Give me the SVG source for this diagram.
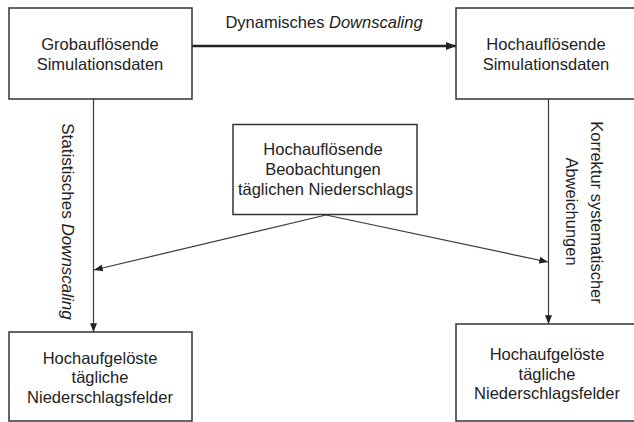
<svg xmlns="http://www.w3.org/2000/svg" width="634" height="422" viewBox="0 0 634 422">
<defs>
<style>
.box{fill:#fff;stroke:#333;stroke-width:1.5}
.t{font-family:"Liberation Sans",Arial,sans-serif;font-size:16.5px;fill:#222;text-anchor:middle}
.c{fill:none;stroke:#3a3a3a;stroke-width:1.2}
.ct{fill:none;stroke:#222;stroke-width:2.4}
</style>
<marker id="ah" viewBox="0 0 10 8" refX="10" refY="4" markerWidth="9" markerHeight="7" markerUnits="userSpaceOnUse" orient="auto">
<path d="M0,0 L10,4 L0,8 Z" fill="#222"/>
</marker>
<marker id="ahb" viewBox="0 0 10 8" refX="10" refY="4" markerWidth="10" markerHeight="8" markerUnits="userSpaceOnUse" orient="auto">
<path d="M0,0 L10,4 L0,8 Z" fill="#222"/>
</marker>
</defs>
<rect width="634" height="422" fill="#fff"/>
<g id="connectors">
<line class="ct" x1="192" y1="46" x2="456" y2="46" marker-end="url(#ahb)"/>
<line class="c" x1="93.5" y1="99" x2="93.5" y2="332" marker-end="url(#ah)"/>
<line class="c" x1="548.5" y1="99" x2="548.5" y2="324" marker-end="url(#ah)"/>
<line class="c" x1="326" y1="215" x2="94" y2="270" marker-end="url(#ah)"/>
<line class="c" x1="326" y1="215" x2="548" y2="262" marker-end="url(#ah)"/>
<text class="t" x="324" y="28">Dynamisches <tspan font-style="italic">Downscaling</tspan></text>
<text class="t" style="font-size:17px" transform="translate(62,221.5) rotate(90)">Statistisches <tspan font-style="italic">Downscaling</tspan></text>
<text class="t" transform="translate(591,212.5) rotate(90)">Korrektur systematischer</text>
<text class="t" transform="translate(566,211.5) rotate(90)">Abweichungen</text>
</g>
<g id="grob">
<rect class="box" x="9" y="8" width="183" height="91"/>
<text class="t" x="100" y="50">Grobauflösende</text>
<text class="t" x="100" y="69.5">Simulationsdaten</text>
</g>
<g id="hochsim">
<rect class="box" x="456" y="8" width="200" height="91"/>
<text class="t" x="546" y="50">Hochauflösende</text>
<text class="t" x="546" y="69.5">Simulationsdaten</text>
</g>
<g id="beob">
<rect class="box" x="233" y="124.5" width="184" height="90"/>
<text class="t" x="323" y="154.5">Hochauflösende</text>
<text class="t" x="323" y="174.5">Beobachtungen</text>
<text class="t" x="325.5" y="195">täglichen Niederschlags</text>
</g>
<g id="feld1">
<rect class="box" x="9" y="332" width="183" height="89"/>
<text class="t" x="100" y="364">Hochaufgelöste</text>
<text class="t" x="100" y="383">tägliche</text>
<text class="t" x="100" y="402.5">Niederschlagsfelder</text>
</g>
<g id="feld2">
<rect class="box" x="456" y="324" width="200" height="97"/>
<text class="t" x="547" y="360">Hochaufgelöste</text>
<text class="t" x="547" y="379.5">tägliche</text>
<text class="t" x="547" y="399">Niederschlagsfelder</text>
</g>
</svg>
